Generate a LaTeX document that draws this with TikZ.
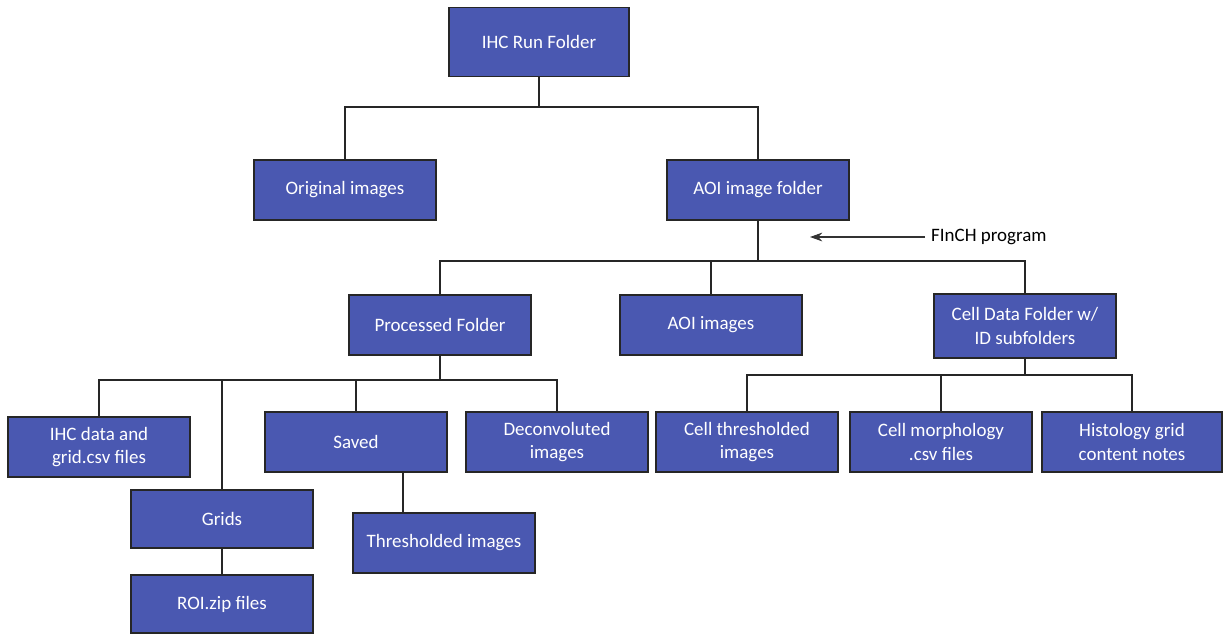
\documentclass[tikz,border=0pt]{standalone}
\usepackage{fontspec}
\setmainfont{Carlito}
\usetikzlibrary{arrows.meta}
\definecolor{boxblue}{HTML}{4A58B1}
\tikzset{%
  folder/.style={draw=black!85,line width=0.9pt,fill=boxblue,text=white,align=center,
    minimum width=3.64cm,minimum height=1.2cm,inner sep=2pt,font=\fontsize{10.8}{13.5}\selectfont},
  link/.style={draw=black!85,line width=0.8pt}
}
\begin{document}
\begin{tikzpicture}[x=0.02cm,y=-0.02cm]
  \useasboundingbox (0,0) rectangle (1224,637);
  \path
    (539,42) node[folder,minimum width=3.6cm,minimum height=1.38cm] (run) {IHC Run Folder}
    (345,190) node[folder] (orig) {Original images}
    (758,190) node[folder] (aoi) {AOI image folder}
    (440,325) node[folder] (proc) {Processed Folder}
    (711,325) node[folder] (aoiimg) {AOI images}
    (1025,326) node[folder,minimum height=1.28cm] (cell) {Cell Data Folder w/\\ ID subfolders}
    (99,447) node[folder] (ihc) {IHC data and\\ grid.csv files}
    (222,519) node[folder,minimum height=1.16cm] (grids) {Grids}
    (222,604) node[folder,minimum height=1.16cm] (roi) {ROI.zip files}
    (356,442) node[folder] (saved) {Saved}
    (444,543) node[folder] (thr) {Thresholded images}
    (557,442) node[folder] (decon) {Deconvoluted\\ images}
    (747,442) node[folder] (cthr) {Cell thresholded\\ images}
    (941,442) node[folder] (morph) {Cell morphology\\ .csv files}
    (1132,442) node[folder,minimum width=3.6cm] (hist) {Histology grid\\ content notes};
  \node[font=\fontsize{10.8}{13}\selectfont,anchor=west] (finch) at (925,237) {FInCH program};
  % branch points
  \coordinate (b1) at (539,107);
  \coordinate (b2) at (758,261);
  \coordinate (b3) at (436,380);
  \coordinate (b4) at (1030,375);
  \coordinate (sv) at (403,472);
  \coordinate (tip) at (810,237);
  % top level
  \draw[link] (run.south) -- (b1);
  \draw[link] (orig.north) |- (b1) -| (aoi.north);
  % AOI image folder
  \draw[link] (aoi.south) -- (b2);
  \draw[link] (proc.north) |- (b2) -| (cell.north);
  \draw[link] (aoiimg.north) -- (aoiimg.north |- b2);
  \draw[-{Stealth[length=7pt,width=5pt]},black!80,line width=0.6pt] (finch.west) -- (tip);
  % processed folder
  \draw[link] (proc.south) -- (proc.south |- b3);
  \draw[link] (ihc.north) |- (b3) -| (decon.north);
  \draw[link] (grids.north) -- (grids.north |- b3);
  \draw[link] (saved.north) -- (saved.north |- b3);
  \draw[link] (grids.south) -- (roi.north);
  \draw[link] (sv) -- (sv |- thr.north);
  % cell data folder
  \draw[link] (cell.south) -- (cell.south |- b4);
  \draw[link] (cthr.north) |- (b4) -| (hist.north);
  \draw[link] (morph.north) -- (morph.north |- b4);
\end{tikzpicture}
\end{document}
